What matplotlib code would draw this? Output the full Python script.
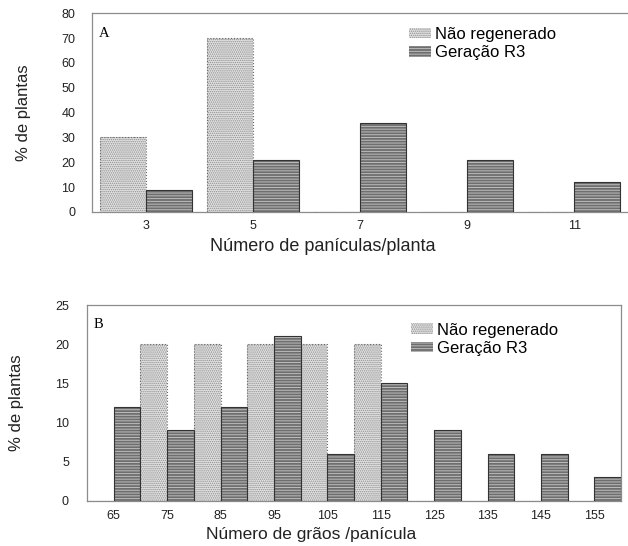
import numpy as np
import matplotlib
matplotlib.use("Agg")
import matplotlib.pyplot as plt

plt.rcParams.update({"font.family": "Liberation Sans", "hatch.linewidth": 0.7})

# panel A -- panicles per plant
paniculas = [3, 5, 7, 9, 11]
nao_reg_a = [30, 70, 0, 0, 0]
ger_r3_a = [9, 21, 36, 21, 12]

# panel B -- grains per panicle
graos = [65, 75, 85, 95, 105, 115, 125, 135, 145, 155]
nao_reg_b = [0, 20, 20, 20, 20, 20, 0, 0, 0, 0]
ger_r3_b = [12, 9, 12, 21, 6, 15, 9, 6, 6, 3]

NAO_FACE, NAO_HATCH, NAO_EDGE = "#e2e2e2", "#8f8f8f", "#6a6a6a"
GER_FACE, GER_HATCH, GER_EDGE = "#6e6e6e", "#bdbdbd", "#333333"
SPINE = "#8c8c8c"


def pair_bars(ax, x, a, b, w):
    x = np.asarray(x, dtype=float)
    ax.bar(x - w / 2, a, w, color=NAO_FACE, edgecolor=NAO_HATCH, hatch="........",
           lw=0, label="Não regenerado", zorder=2)
    ax.bar(x - w / 2, a, w, fill=False, edgecolor=NAO_EDGE, lw=0.8, ls=":", zorder=3)
    ax.bar(x + w / 2, b, w, color=GER_FACE, edgecolor=GER_HATCH, hatch="------",
           lw=0, label="Geração R3", zorder=2)
    ax.bar(x + w / 2, b, w, fill=False, edgecolor=GER_EDGE, lw=0.8, zorder=3)


def style(ax, ypad):
    for s in ax.spines.values():
        s.set_color(SPINE)
        s.set_linewidth(0.9)
    ax.tick_params(length=0, labelsize=9, colors="#222222")
    ax.tick_params(axis="x", pad=6)
    ax.tick_params(axis="y", pad=ypad)


fig = plt.figure(figsize=(6.28, 5.46), dpi=100)

# ---- A
ax1 = fig.add_axes([92 / 628, 1 - 212 / 546, 536 / 628, 198.7 / 546])
pair_bars(ax1, paniculas, nao_reg_a, ger_r3_a, 0.86)
ax1.set_xlim(2, 12)
ax1.set_ylim(0, 80)
ax1.set_xticks(paniculas)
ax1.set_yticks(range(0, 81, 10))
style(ax1, 12)
ax1.spines["right"].set_visible(False)
ax1.set_xlabel("Número de panículas/planta", fontsize=13, labelpad=4, color="#222222")
ax1.xaxis.set_label_coords(0.431, -0.13)
ax1.set_ylabel("% de plantas", fontsize=12, labelpad=22, color="#222222")
ax1.text(0.012, 0.9, "A", transform=ax1.transAxes, family="Liberation Serif",
         fontsize=10.5, va="center")
ax1.legend(loc="upper left", bbox_to_anchor=(0.57, 0.99), frameon=False,
           fontsize=12, handlelength=1.3, handleheight=0.6, handletextpad=0.25,
           labelspacing=0.2, borderpad=0.2)

# ---- B
ax2 = fig.add_axes([87 / 628, 1 - 500.7 / 546, 534 / 628, 195.7 / 546])
pair_bars(ax2, graos, nao_reg_b, ger_r3_b, 5)
ax2.set_xlim(60, 160)
ax2.set_ylim(0, 25)
ax2.set_xticks(graos)
ax2.set_yticks(range(0, 26, 5))
style(ax2, 13)
ax2.tick_params(axis="x", pad=7)
ax2.set_xlabel("Número de grãos /panícula", fontsize=12.5, labelpad=4, color="#222222")
ax2.xaxis.set_label_coords(0.42, -0.135)
ax2.set_ylabel("% de plantas", fontsize=12, labelpad=22, color="#222222")
ax2.text(0.012, 0.9, "B", transform=ax2.transAxes, family="Liberation Serif",
         fontsize=10.5, va="center")
ax2.legend(loc="upper left", bbox_to_anchor=(0.585, 0.97), frameon=False,
           fontsize=12, handlelength=1.3, handleheight=0.6, handletextpad=0.25,
           labelspacing=0.2, borderpad=0.2)

fig.savefig("out.png", dpi=100, facecolor="white")
